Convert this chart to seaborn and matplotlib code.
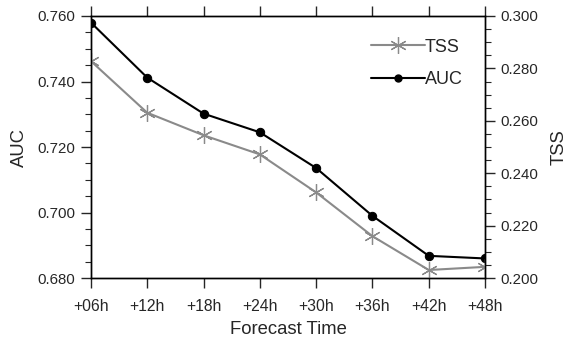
import matplotlib
matplotlib.use("Agg")
import matplotlib.pyplot as plt
from matplotlib.ticker import MultipleLocator, FixedLocator
from matplotlib.lines import Line2D
import seaborn as sns
import pandas as pd

hours = ["+06h", "+12h", "+18h", "+24h", "+30h", "+36h", "+42h", "+48h"]
auc = [0.758, 0.7412, 0.7302, 0.7245, 0.7136, 0.6990, 0.6868, 0.6860]
tss = [0.2828, 0.2631, 0.2545, 0.2472, 0.2327, 0.2160, 0.2031, 0.2043]

sns.set_style("ticks")
plt.rcParams['font.family'] = ['Liberation Sans', 'DejaVu Sans']

df = pd.DataFrame({"x": range(len(hours)), "AUC": auc, "TSS": tss})

fig = plt.figure(figsize=(5.68, 3.40), dpi=100)
ax = fig.add_axes([0.160, 0.182, 0.694, 0.771])
ax2 = ax.twinx()

sns.lineplot(data=df, x="x", y="AUC", ax=ax, color="black", lw=1.5,
             marker="o", markersize=6, markeredgecolor="black", zorder=3)
sns.lineplot(data=df, x="x", y="TSS", ax=ax2, color="#8a8a8a", lw=1.5,
             marker=(6, 2, 0), markersize=12, markeredgecolor="#8a8a8a",
             markeredgewidth=0.9, zorder=2)

ax.set_xlim(0, len(hours) - 1)
ax.set_xticks(range(len(hours)))
ax.set_xticklabels(hours)
ax.set_ylim(0.680, 0.760)
ax.yaxis.set_major_locator(FixedLocator([0.680, 0.700, 0.720, 0.740, 0.760]))
ax.yaxis.set_minor_locator(MultipleLocator(0.005))
ax.set_yticklabels(["%.3f" % v for v in [0.680, 0.700, 0.720, 0.740, 0.760]])
ax2.set_ylim(0.200, 0.300)
ax2.yaxis.set_major_locator(FixedLocator([0.200, 0.220, 0.240, 0.260, 0.280, 0.300]))
ax2.yaxis.set_minor_locator(MultipleLocator(0.005))
ax2.set_yticklabels(["%.3f" % v for v in [0.200, 0.220, 0.240, 0.260, 0.280, 0.300]])

for a in (ax, ax2):
    for s in a.spines.values():
        s.set_visible(True)
        s.set_linewidth(1.0)
        s.set_color("black")

ax.tick_params(axis="x", which="major", direction="out", length=7, width=1,
               top=True, labelsize=11.3, pad=8)
ax.tick_params(axis="y", which="major", direction="out", length=7, width=1,
               labelsize=10.8, pad=4)
ax.tick_params(axis="y", which="minor", direction="out", length=4, width=0.8)
ax2.tick_params(axis="y", which="major", direction="out", length=7, width=1,
                labelsize=10.8, pad=4)
ax2.tick_params(axis="y", which="minor", direction="out", length=4, width=0.8)

ax.set_xlabel("Forecast Time", fontsize=13.3, labelpad=5)
ax.set_ylabel("AUC", fontsize=13.3, labelpad=7)
ax2.set_ylabel("TSS", fontsize=13.3, labelpad=9)

handles = [
    Line2D([], [], color="#8a8a8a", lw=1.5, marker=(6, 2, 0), markersize=12,
           markeredgecolor="#8a8a8a", markeredgewidth=0.9),
    Line2D([], [], color="black", lw=1.5, marker="o", markersize=5),
]
ax2.legend(handles, ["TSS", "AUC"], loc="upper right", frameon=False,
           fontsize=13, handlelength=3.0, handletextpad=0.0,
           labelspacing=0.85, bbox_to_anchor=(0.985, 0.975))

fig.savefig("out.png", dpi=100)
